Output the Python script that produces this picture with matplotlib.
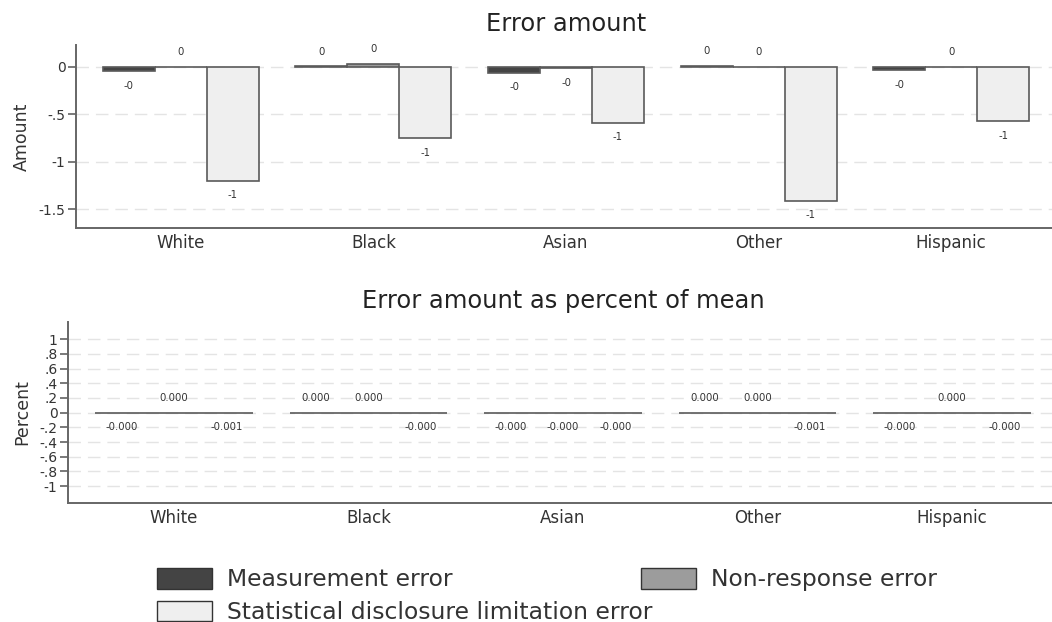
import numpy as np
import matplotlib
matplotlib.use("Agg")
import matplotlib.pyplot as plt
from matplotlib.patches import Patch

# Data
groups = ["White", "Black", "Asian", "Other", "Hispanic"]
series_names = ["Measurement error", "Non-response error",
                "Statistical disclosure limitation error"]

measurement_amount = [-0.045, 0.008, -0.06, 0.01, -0.035]
nonresponse_amount = [0.003, 0.035, -0.01, 0.002, 0.002]
sdl_amount = [-1.2, -0.75, -0.59, -1.41, -0.57]

measurement_pct = [-0.00003, 0.00001, -0.00006, 0.00001, -0.00003]
nonresponse_pct = [0.000002, 0.00004, -0.00001, 0.000002, 0.000002]
sdl_pct = [-0.0008, -0.0004, -0.0004, -0.0009, -0.0004]

amount_ticks = [0, -0.5, -1, -1.5]
amount_ticklabels = ["0", "-.5", "-1", "-1.5"]
pct_ticks = [1, 0.8, 0.6, 0.4, 0.2, 0, -0.2, -0.4, -0.6, -0.8, -1]
pct_ticklabels = ["1", ".8", ".6", ".4", ".2", "0", "-.2", "-.4", "-.6", "-.8", "-1"]

fills = ["#444444", "#9c9c9c", "#efefef"]
edge = "#5a5a5a"
grid_c = "#e4e4e4"
text_c = "#333333"

plt.rcParams["font.family"] = ["DejaVu Sans"]

fig = plt.figure(figsize=(10.52, 6.22), dpi=100)
W, H = 1052, 622


def px_axes(left, top, right, bottom):
    return fig.add_axes([left / W, 1 - bottom / H, (right - left) / W, (bottom - top) / H])


def draw_panel(ax, series, fmt, ylim, ticks, ticklabels, ylabel, title):
    x = np.arange(len(groups))
    bw = 0.27
    for i, vals in enumerate(series):
        pos = x + (i - 1) * bw
        bars = ax.bar(pos, vals, width=bw, color=fills[i], edgecolor=edge,
                      linewidth=1.2, zorder=3)
        for b, v in zip(bars, vals):
            off = 10.5 if v >= 0 else -10.5
            ax.annotate(fmt(v), (b.get_x() + b.get_width() / 2, v),
                        xytext=(0, off), textcoords="offset points",
                        ha="center", va="center", fontsize=7.3, color=text_c)
    ax.set_xlim(-0.545, len(groups) - 1 + 0.545)
    ax.set_ylim(*ylim)
    ax.set_yticks(ticks)
    ax.set_yticklabels(ticklabels)
    ax.set_xticks(x)
    ax.set_xticklabels(groups)
    ax.tick_params(axis="x", length=0, labelsize=12, colors=text_c, pad=4.5)
    ax.tick_params(axis="y", length=6, width=1.1, color="#555555",
                   labelsize=10, labelcolor=text_c, pad=1.5)
    for t in ticks:
        ax.axhline(t, color=grid_c, linewidth=1.0, linestyle=(0, (9, 5)), zorder=1)
    for s in ("top", "right"):
        ax.spines[s].set_visible(False)
    for s in ("left", "bottom"):
        ax.spines[s].set_color("#666666")
        ax.spines[s].set_linewidth(1.4)
    ax.set_ylabel(ylabel, fontsize=12.5, color=text_c, labelpad=6)
    ax.set_title(title, fontsize=17.4, color="#222222", pad=10)


ax1 = px_axes(76, 45, 1056, 228)
draw_panel(ax1, [measurement_amount, nonresponse_amount, sdl_amount],
           lambda v: f"{v:.0f}", (-1.70, 0.232), amount_ticks, amount_ticklabels,
           "Amount", "Error amount")

ax2 = px_axes(68, 322, 1058, 503)
draw_panel(ax2, [measurement_pct, nonresponse_pct, sdl_pct],
           lambda v: f"{v:.3f}", (-1.23, 1.235), pct_ticks, pct_ticklabels,
           "Percent", "Error amount as percent of mean")

# Legend: two rows in the first column, one entry in the second column
legend_kw = dict(loc="upper left", frameon=False, fontsize=16.9, handlelength=2.34,
                 handleheight=0.98, handletextpad=0.64, labelspacing=0.39,
                 borderpad=0, borderaxespad=0, labelcolor=text_c)
col1 = [Patch(facecolor=fills[0], edgecolor="#333333", linewidth=1.0, label=series_names[0]),
        Patch(facecolor=fills[2], edgecolor="#333333", linewidth=1.0, label=series_names[2])]
col2 = [Patch(facecolor=fills[1], edgecolor="#333333", linewidth=1.0, label=series_names[1])]
fig.legend(handles=col1, bbox_to_anchor=(157 / W, 1 - 568 / H), **legend_kw)
fig.legend(handles=col2, bbox_to_anchor=(641 / W, 1 - 568 / H), **legend_kw)

fig.savefig("out.png", dpi=100)
